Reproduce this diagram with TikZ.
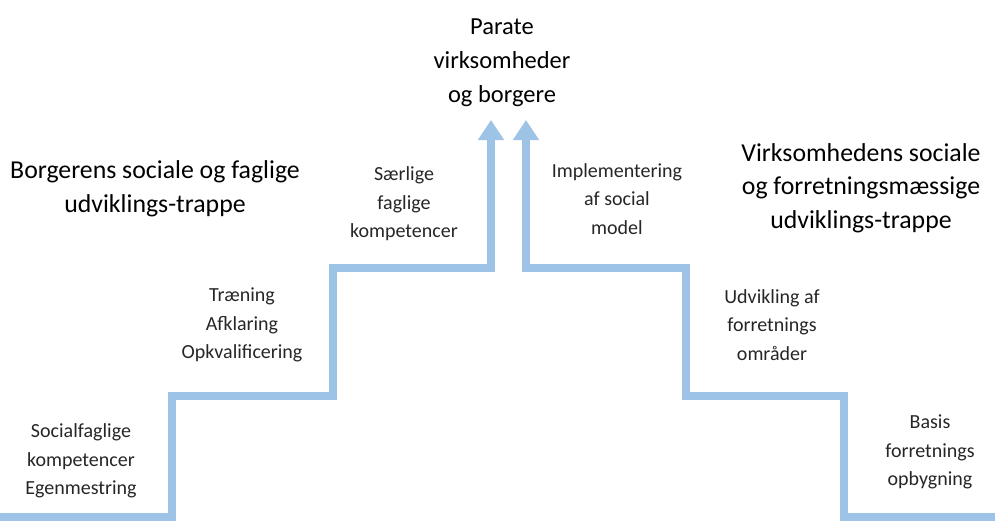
\documentclass[tikz,border=0pt]{standalone}
\usepackage{fontspec}
\setmainfont{Carlito}
\usetikzlibrary{arrows.meta, positioning}

\definecolor{trappe}{RGB}{157,195,230}
\definecolor{tekst}{RGB}{38,38,38}

\tikzset{
    step line/.style={draw=trappe, line width=8pt, line join=miter},
    step arrow/.style={step line, -{Triangle[width=25pt, length=20pt]}},
    label text/.style={align=center, inner sep=0pt, text=tekst, font=\fontsize{20}{28.5}\selectfont},
    title text/.style={align=center, inner sep=0pt, text=black, font=\fontsize{24.5}{34}\selectfont},
    side title/.style={title text, font=\fontsize{25.8}{33.5}\selectfont}
}

\begin{document}
\begin{tikzpicture}[x=1pt, y=-1pt]
    \useasboundingbox (0,0) rectangle (995,520);
    % borgerens trappe
    \draw[step arrow] (0,517) -- (172,517) -- (172,396) -- (333,396) -- (333,268) -- (491,268) -- (491,120);
    % virksomhedens trappe
    \draw[step arrow] (995,517) -- (844,517) -- (844,396) -- (686,396) -- (686,268) -- (526,268) -- (526,120);

    \node[title text] (maal) at (502,63) {Parate\\virksomheder\\og borgere};
    \node[side title] (borger) at (155,189) {Borgerens sociale og faglige\\udviklings-trappe};
    \node[side title] (virksomhed) at (861,188) {Virksomhedens sociale\\og forretningsmæssige\\udviklings-trappe};

    \node[label text] (trin1) at (81,461) {Socialfaglige\\kompetencer\\Egenmestring};
    \node[label text] (trin2) at (242,325) {Træning\\Afklaring\\Opkvalificering};
    \node[label text] (trin3) at (404,204) {Særlige\\faglige\\kompetencer};
    \node[label text] (trin4) at (617,199) {Implementering\\af social\\model};
    \node[label text] (trin5) at (772,325) {Udvikling af\\forretnings\\områder};
    \node[label text] (trin6) at (930,452) {Basis\\forretnings\\opbygning};
\end{tikzpicture}
\end{document}
